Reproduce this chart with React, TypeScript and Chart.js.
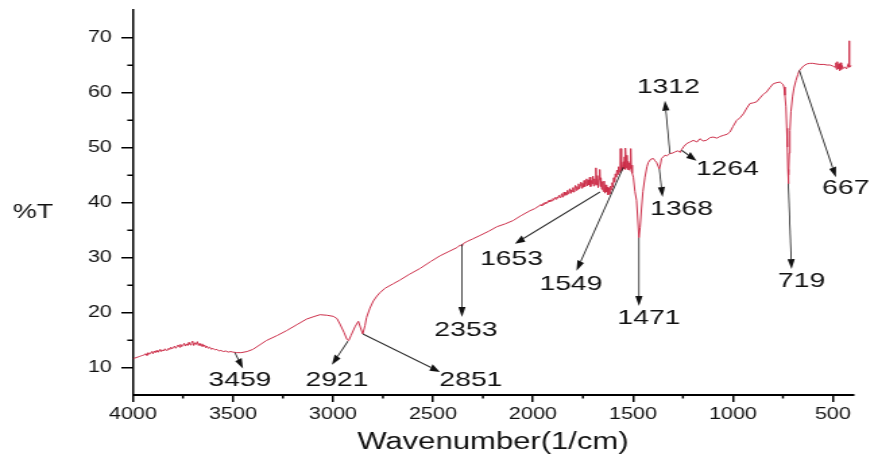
import React, { useEffect, useRef } from "react";
import { Chart, registerables } from "chart.js";

Chart.register(...registerables);

// ---------- data ----------
const wavenumbers = [
  4000, 3992, 3984, 3976, 3968, 3960, 3952, 3944, 3936, 3930, 3924, 3918, 3912, 3906, 3900, 3894,
  3888, 3882, 3876, 3870, 3864, 3858, 3852, 3846, 3840, 3834, 3828, 3822, 3816, 3810, 3804, 3798,
  3792, 3786, 3780, 3774, 3768, 3762, 3756, 3750, 3744, 3738, 3732, 3726, 3720, 3714, 3708, 3702,
  3696, 3690, 3684, 3678, 3672, 3666, 3660, 3654, 3648, 3642, 3636, 3630, 3624, 3616, 3608, 3600,
  3590, 3580, 3570, 3560, 3548, 3536, 3524, 3512, 3500, 3480, 3459, 3430, 3400,
  3333, 3280, 3232, 3180, 3132, 3100, 3065, 3030, 2998, 2980, 2965, 2945, 2930, 2921, 2910, 2890,
  2873, 2860, 2851, 2840, 2832, 2815, 2798, 2780, 2765, 2740, 2700, 2665, 2620, 2565, 2510, 2465,
  2420, 2380, 2362, 2355, 2350, 2330, 2300, 2265, 2220, 2180, 2140, 2100, 2060, 2015, 1990,
  1960, 1955, 1950, 1945, 1940, 1935, 1930, 1925, 1920, 1915, 1910, 1905, 1900, 1895, 1890, 1885,
  1880, 1875, 1870, 1865, 1860, 1856, 1852, 1848, 1844, 1840, 1836, 1832, 1828, 1824, 1820, 1816,
  1812, 1808, 1804, 1800, 1796, 1792, 1788, 1784, 1780, 1776, 1772, 1768, 1764, 1760, 1756, 1752,
  1748, 1744, 1740, 1736, 1732, 1728, 1724, 1720, 1716, 1712, 1708, 1704, 1700, 1696, 1692, 1688,
  1685, 1682, 1678, 1674, 1670, 1666, 1663, 1660, 1656, 1652, 1648, 1644, 1640, 1636, 1632, 1628,
  1624, 1620, 1616, 1612, 1608, 1604, 1600, 1596, 1592, 1588, 1584, 1580, 1576, 1572, 1568, 1564,
  1562, 1559, 1556, 1552, 1548, 1545, 1542, 1539, 1537, 1533, 1530, 1527, 1524, 1520, 1517, 1514,
  1511, 1508, 1505, 1502,
  1498, 1490, 1482, 1476, 1470, 1464, 1457, 1450, 1440, 1430, 1423, 1410, 1398, 1390, 1382, 1374,
  1368, 1362, 1357, 1348, 1340, 1330, 1315, 1300, 1290, 1275, 1264, 1257, 1245, 1232, 1215, 1198,
  1180, 1165, 1150, 1132, 1115, 1098, 1080, 1065, 1048, 1030, 1015, 1000, 982, 965, 948, 930,
  915, 900, 882, 865, 850, 832, 815, 798, 780, 765, 750, 745, 740, 735, 731, 728,
  725, 723, 721, 718, 715, 710, 702, 695, 685, 675, 668, 660, 648, 630, 615, 600,
  585, 565, 545, 530, 515, 500, 490, 485, 482, 478, 474, 470, 466, 462, 458, 454,
  448, 440, 432, 425, 421, 419, 417, 414, 410,
];

const transmittance = [
  11.6, 11.7, 11.8, 11.9, 12.0, 12.1, 12.2, 12.3, 12.5, 12.2, 12.7, 12.4, 12.6, 12.9, 12.5, 13.0,
  12.7, 13.1, 12.8, 12.9, 13.3, 12.9, 13.2, 13.0, 13.4, 13.1, 13.2, 13.5, 13.3, 13.7, 13.4, 13.6,
  13.9, 13.5, 13.8, 14.1, 13.7, 14.2, 13.8, 14.0, 14.4, 13.9, 14.3, 14.0, 14.6, 14.1, 14.4, 14.8,
  14.0, 14.5, 14.2, 14.7, 14.0, 14.4, 13.9, 14.3, 13.8, 14.1, 13.6, 13.9, 13.5, 13.7, 13.3, 13.5,
  13.2, 13.3, 13.0, 13.1, 12.9, 13.0, 12.8, 12.9, 12.8, 12.7, 12.7, 12.9, 13.3,
  14.9, 15.8, 16.7, 17.8, 18.8, 19.2, 19.6, 19.5, 19.3, 18.9, 17.9, 16.4, 15.1, 14.9, 15.8, 17.4,
  18.4, 17.0, 16.1, 17.6, 19.1, 20.8, 22.1, 23.0, 23.6, 24.4, 25.2, 25.9, 26.9, 28.0, 29.3, 30.3,
  31.1, 31.8, 32.3, 32.0, 32.5, 32.9, 33.4, 34.0, 34.8, 35.6, 36.1, 36.7, 37.6, 38.5, 38.9,
  39.6, 39.4, 39.8, 39.6, 40.0, 39.8, 40.1, 40.0, 40.4, 40.1, 40.5, 40.3, 40.7, 40.5, 40.9, 40.6,
  41.0, 40.8, 41.3, 40.9, 41.2, 41.6, 41.0, 41.5, 41.9, 41.3, 41.8, 41.4, 42.2, 41.6, 42.0, 42.5,
  41.7, 42.3, 42.0, 42.7, 41.9, 42.6, 43.1, 42.2, 42.9, 42.4, 43.4, 42.5, 43.1, 43.7, 42.6, 43.5,
  42.8, 44.0, 42.9, 43.6, 44.3, 43.0, 44.1, 43.2, 44.6, 42.9, 44.0, 43.4, 44.8, 43.0, 44.3, 43.3,
  46.3, 43.2, 44.9, 42.7, 44.2, 46.0, 42.9, 44.5, 42.4, 43.8, 42.0, 43.9, 41.7, 43.2, 41.9, 42.8,
  41.4, 42.6, 41.6, 43.0, 42.3, 43.6, 42.8, 44.5, 43.7, 45.2, 44.6, 45.9, 45.1, 46.5, 45.5, 47.0,
  49.8, 45.7, 47.2, 45.9, 47.4, 46.1, 48.3, 46.0, 49.9, 46.3, 48.6, 46.0, 47.5, 45.9, 47.2, 46.2,
  49.8, 45.7, 46.8, 45.3,
  44.6, 42.0, 40.4, 37.0, 33.6, 35.5, 39.0, 42.0, 44.6, 46.5, 47.3, 47.9, 48.0, 47.6, 47.3, 46.6,
  46.1, 47.0, 48.0, 48.3, 48.6, 48.5, 48.9, 49.0, 49.2, 49.4, 49.1, 49.6, 50.2, 50.7, 51.0, 51.3,
  51.0, 51.6, 51.2, 51.3, 51.8, 51.9, 51.7, 52.0, 52.2, 52.4, 52.8, 53.8, 54.9, 55.4, 56.1, 57.2,
  58.0, 58.1, 58.3, 59.0, 59.6, 60.1, 60.9, 61.6, 61.8, 61.9, 61.5, 61.0, 59.5, 57.4, 53.5, 50.1,
  46.0, 43.4, 45.0, 49.0, 53.1, 56.5, 59.2, 60.8, 62.2, 63.3, 64.0, 64.3, 64.8, 65.2, 65.3, 65.3,
  65.2, 65.1, 65.1, 65.0, 65.0, 64.8, 64.6, 65.4, 64.2, 65.6, 64.3, 65.2, 64.0, 65.4, 64.2, 64.9,
  64.4, 64.6, 64.3, 65.0, 65.3, 69.4, 64.6, 64.8, 64.9,
];

const xTickValues = [500, 1000, 1500, 2000, 2500, 3000, 3500, 4000];
const xMinorTickValues = [750, 1250, 1750, 2250, 2750, 3250, 3750];
const yTickValues = [10, 20, 30, 40, 50, 60, 70];
const yMinorTickValues = [15, 25, 35, 45, 55, 65];

const xTitle = "Wavenumber(1/cm)";
const yTitle = "%T";

// peak annotations: label, point on curve, arrow tip, label centre (data units)
const peakLabels = ["3459", "2921", "2851", "2353", "1653", "1549", "1471", "1368", "1312", "1264", "719", "667"];
const peakFrom: number[][] = [
  [3490, 12.7], [2925, 14.8], [2850, 16.1], [2355, 32.4], [1665, 41.9], [1548, 46.4],
  [1470, 33.6], [1368, 46.1], [1315, 48.9], [1257, 49.5], [723, 43.4], [668, 64.0],
];
const peakTo: number[][] = [
  [3450, 9.8], [3005, 10.5], [2465, 9.2], [2355, 19.2], [2090, 32.5], [1782, 27.6],
  [1470, 21.2], [1352, 41.0], [1340, 58.5], [1182, 47.6], [707, 27.9], [485, 44.6],
];
const peakText: number[][] = [
  [3465, 7.6], [2980, 7.6], [2310, 7.6], [2335, 16.7], [2107, 29.65], [1810, 25.1],
  [1420, 19.0], [1257, 38.85], [1323, 60.9], [1028, 46.0], [657, 25.6], [436, 42.6],
];

// ---------- layout ----------
const CW = 648; // canvas drawing width (stretched horizontally to the window)
const CH = 458;
const SX = 874 / CW;
const FONT = '"Liberation Sans", Arial, Helvetica, sans-serif';

const annotatePlugin = {
  id: "annotate",
  afterDraw(chart: any) {
    const { ctx, chartArea } = chart;
    const xs = chart.scales.x;
    const ys = chart.scales.y;
    ctx.save();

    // minor ticks
    ctx.strokeStyle = "#000";
    ctx.lineWidth = 1.5;
    for (const v of yMinorTickValues) {
      const py = Math.round(ys.getPixelForValue(v)) + 0.25;
      ctx.beginPath();
      ctx.moveTo(chartArea.left - 4.2, py);
      ctx.lineTo(chartArea.left, py);
      ctx.stroke();
    }
    for (const v of xMinorTickValues) {
      const px = xs.getPixelForValue(v);
      ctx.beginPath();
      ctx.moveTo(px, chartArea.bottom);
      ctx.lineTo(px, chartArea.bottom + 3.5);
      ctx.stroke();
    }

    // y title
    ctx.fillStyle = "#111";
    ctx.font = `20px ${FONT}`;
    ctx.textAlign = "center";
    ctx.textBaseline = "middle";
    ctx.fillText(yTitle, 24.5, chartArea.top + 0.525 * (chartArea.bottom - chartArea.top));

    // arrows (drawn in screen space so heads keep their shape)
    ctx.save();
    ctx.scale(1 / SX, 1);
    ctx.strokeStyle = "#222";
    ctx.fillStyle = "#111";
    ctx.lineWidth = 1.1;
    for (let i = 0; i < peakLabels.length; i++) {
      const X1 = xs.getPixelForValue(peakFrom[i][0]) * SX;
      const Y1 = ys.getPixelForValue(peakFrom[i][1]);
      const X2 = xs.getPixelForValue(peakTo[i][0]) * SX;
      const Y2 = ys.getPixelForValue(peakTo[i][1]);
      const ang = Math.atan2(Y2 - Y1, X2 - X1);
      const hl = 10;
      const hw = 3.6;
      const bx = X2 - hl * Math.cos(ang);
      const by = Y2 - hl * Math.sin(ang);
      ctx.beginPath();
      ctx.moveTo(X1, Y1);
      ctx.lineTo(bx, by);
      ctx.stroke();
      ctx.beginPath();
      ctx.moveTo(X2, Y2);
      ctx.lineTo(bx + hw * Math.sin(ang), by - hw * Math.cos(ang));
      ctx.lineTo(bx - hw * Math.sin(ang), by + hw * Math.cos(ang));
      ctx.closePath();
      ctx.fill();
    }
    ctx.restore();

    // peak labels
    ctx.fillStyle = "#111";
    ctx.font = `21px ${FONT}`;
    ctx.textAlign = "center";
    ctx.textBaseline = "middle";
    for (let i = 0; i < peakLabels.length; i++) {
      const px = xs.getPixelForValue(peakText[i][0]);
      const py = ys.getPixelForValue(peakText[i][1]);
      ctx.fillText(peakLabels[i], px, py);
    }
    ctx.restore();
  },
};

export default function App() {
  const canvasRef = useRef<HTMLCanvasElement | null>(null);

  useEffect(() => {
    const canvas = canvasRef.current;
    if (!canvas) return;
    const points = wavenumbers.map((w, i) => ({ x: w, y: transmittance[i] }));
    const chart = new Chart(canvas, {
      type: "line",
      data: {
        datasets: [
          {
            data: points,
            borderColor: "#cc2f4a",
            borderWidth: 1,
            pointRadius: 0,
            tension: 0,
            fill: false,
          },
        ],
      },
      options: {
        responsive: false,
        animation: false,
        devicePixelRatio: 1,
        events: [],
        layout: { padding: { top: 10, right: 15.6, left: 0, bottom: 0 } },
        plugins: {
          legend: { display: false },
          tooltip: { enabled: false },
          title: { display: false },
        },
        scales: {
          x: {
            type: "linear",
            reverse: true,
            min: 400,
            max: 4000,
            afterBuildTicks: (s: any) => {
              s.ticks = xTickValues.map((v) => ({ value: v }));
            },
            afterFit: (s: any) => {
              s.height = 63;
              s.paddingLeft = 0;
              s.paddingRight = 0;
            },
            grid: {
              drawOnChartArea: false,
              drawTicks: true,
              tickLength: 7,
              color: "#000",
              lineWidth: 1.5,
            },
            border: { display: true, color: "#000", width: 2 },
            ticks: {
              autoSkip: false,
              maxRotation: 0,
              padding: 3,
              color: "#111",
              font: { family: FONT, size: 16 },
              callback: (v: any) => String(v),
            },
            title: {
              display: true,
              text: xTitle,
              color: "#111",
              font: { family: FONT, size: 23 },
              padding: { top: 0, bottom: 2 },
            },
          },
          y: {
            type: "linear",
            min: 5,
            max: 75,
            afterBuildTicks: (s: any) => {
              s.ticks = yTickValues.map((v) => ({ value: v }));
            },
            afterFit: (s: any) => {
              s.width = 98.6;
              s.paddingTop = 0;
              s.paddingBottom = 0;
            },
            grid: {
              drawOnChartArea: false,
              drawTicks: true,
              tickLength: 8.6,
              color: "#000",
              lineWidth: 1.5,
            },
            border: { display: true, color: "#000", width: 1.5 },
            ticks: {
              padding: 7,
              color: "#111",
              font: { family: FONT, size: 16 },
              callback: (v: any) => String(v),
            },
          },
        },
      } as any,
      plugins: [annotatePlugin],
    });
    return () => chart.destroy();
  }, []);

  return (
    <canvas
      ref={canvasRef}
      width={CW}
      height={CH}
      style={{
        position: "fixed",
        left: 0,
        top: 0,
        width: "874px",
        height: "458px",
        display: "block",
        background: "#fff",
      }}
    />
  );
}
